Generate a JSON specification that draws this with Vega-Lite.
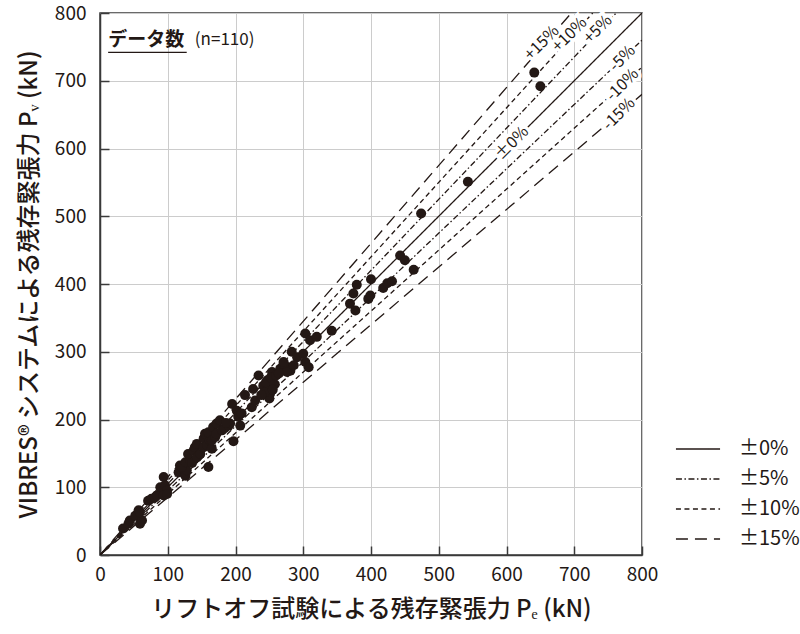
{
  "$schema": "https://vega.github.io/schema/vega-lite/v6.json",
  "width": 542,
  "height": 542,
  "autosize": {"type": "none"},
  "padding": {"left": 100, "top": 13, "right": 158, "bottom": 79},
  "background": "white",
  "datasets": {
    "points": [
      {"pe": 34, "pv": 39}, {"pe": 42, "pv": 46}, {"pe": 44, "pv": 51}, {"pe": 52, "pv": 58},
      {"pe": 57, "pv": 66}, {"pe": 59, "pv": 46}, {"pe": 62, "pv": 51}, {"pe": 59, "pv": 63},
      {"pe": 71, "pv": 80}, {"pe": 76, "pv": 83}, {"pe": 81, "pv": 85}, {"pe": 84, "pv": 88},
      {"pe": 89, "pv": 100}, {"pe": 94, "pv": 115}, {"pe": 96, "pv": 103}, {"pe": 99, "pv": 95},
      {"pe": 94, "pv": 88}, {"pe": 99, "pv": 90}, {"pe": 116, "pv": 122}, {"pe": 118, "pv": 132},
      {"pe": 123, "pv": 127}, {"pe": 126, "pv": 117}, {"pe": 128, "pv": 125}, {"pe": 121, "pv": 130},
      {"pe": 126, "pv": 137}, {"pe": 133, "pv": 140}, {"pe": 136, "pv": 136}, {"pe": 130, "pv": 149},
      {"pe": 138, "pv": 154}, {"pe": 143, "pv": 144}, {"pe": 140, "pv": 159}, {"pe": 143, "pv": 164},
      {"pe": 148, "pv": 149}, {"pe": 153, "pv": 159}, {"pe": 153, "pv": 172}, {"pe": 155, "pv": 179},
      {"pe": 158, "pv": 162}, {"pe": 160, "pv": 130}, {"pe": 162, "pv": 169}, {"pe": 165, "pv": 157},
      {"pe": 160, "pv": 181}, {"pe": 165, "pv": 169}, {"pe": 167, "pv": 189}, {"pe": 170, "pv": 174},
      {"pe": 172, "pv": 194}, {"pe": 177, "pv": 199}, {"pe": 172, "pv": 179}, {"pe": 180, "pv": 184},
      {"pe": 184, "pv": 187}, {"pe": 190, "pv": 191}, {"pe": 192, "pv": 194}, {"pe": 197, "pv": 168},
      {"pe": 195, "pv": 223}, {"pe": 202, "pv": 213}, {"pe": 204, "pv": 204}, {"pe": 209, "pv": 209},
      {"pe": 207, "pv": 191}, {"pe": 214, "pv": 236}, {"pe": 224, "pv": 218}, {"pe": 229, "pv": 228},
      {"pe": 226, "pv": 245}, {"pe": 234, "pv": 265}, {"pe": 241, "pv": 250}, {"pe": 247, "pv": 258},
      {"pe": 249, "pv": 248}, {"pe": 251, "pv": 238}, {"pe": 250, "pv": 231}, {"pe": 254, "pv": 270},
      {"pe": 266, "pv": 275}, {"pe": 243, "pv": 240}, {"pe": 245, "pv": 255}, {"pe": 252, "pv": 262},
      {"pe": 258, "pv": 252}, {"pe": 255, "pv": 244}, {"pe": 260, "pv": 265}, {"pe": 271, "pv": 282},
      {"pe": 278, "pv": 277}, {"pe": 281, "pv": 272}, {"pe": 276, "pv": 270}, {"pe": 271, "pv": 285},
      {"pe": 283, "pv": 300}, {"pe": 291, "pv": 292}, {"pe": 300, "pv": 297}, {"pe": 303, "pv": 285},
      {"pe": 308, "pv": 277}, {"pe": 303, "pv": 327}, {"pe": 310, "pv": 317}, {"pe": 320, "pv": 322},
      {"pe": 342, "pv": 331}, {"pe": 369, "pv": 371}, {"pe": 377, "pv": 361}, {"pe": 379, "pv": 399},
      {"pe": 374, "pv": 386}, {"pe": 400, "pv": 407}, {"pe": 396, "pv": 378}, {"pe": 399, "pv": 383},
      {"pe": 418, "pv": 394}, {"pe": 424, "pv": 401}, {"pe": 431, "pv": 404}, {"pe": 443, "pv": 442},
      {"pe": 450, "pv": 435}, {"pe": 463, "pv": 421}, {"pe": 474, "pv": 504}, {"pe": 543, "pv": 551},
      {"pe": 641, "pv": 712}, {"pe": 650, "pv": 692}, {"pe": 264, "pv": 268}, {"pe": 286, "pv": 280},
      {"pe": 238, "pv": 236}, {"pe": 186, "pv": 195}
    ],
    "lines": [
      {"line": "+15%", "style": "±15%", "pe": 0, "pv": 0}, {"line": "+15%", "style": "±15%", "pe": 695.7, "pv": 800},
      {"line": "+10%", "style": "±10%", "pe": 0, "pv": 0}, {"line": "+10%", "style": "±10%", "pe": 727.3, "pv": 800},
      {"line": "+5%", "style": "±5%", "pe": 0, "pv": 0}, {"line": "+5%", "style": "±5%", "pe": 761.9, "pv": 800},
      {"line": "±0%", "style": "±0%", "pe": 0, "pv": 0}, {"line": "±0%", "style": "±0%", "pe": 800, "pv": 800},
      {"line": "-5%", "style": "±5%", "pe": 0, "pv": 0}, {"line": "-5%", "style": "±5%", "pe": 800, "pv": 760},
      {"line": "-10%", "style": "±10%", "pe": 0, "pv": 0}, {"line": "-10%", "style": "±10%", "pe": 800, "pv": 720},
      {"line": "-15%", "style": "±15%", "pe": 0, "pv": 0}, {"line": "-15%", "style": "±15%", "pe": 800, "pv": 680}
    ],
    "labels": [
      {"label": "+15%", "pe": 652, "pv": 756},
      {"label": "+10%", "pe": 693, "pv": 768},
      {"label": "+5%", "pe": 735, "pv": 776},
      {"label": "±0%", "pe": 608, "pv": 608},
      {"label": "-5%", "pe": 771, "pv": 733},
      {"label": "-10%", "pe": 771, "pv": 694},
      {"label": "-15%", "pe": 766, "pv": 651}
    ],
    "note": [
      {"head": "データ数", "count": "(n=110)", "pe": 12, "pe2": 128, "pe3": 140, "pv": 760, "pvline": 742}
    ]
  },
  "encoding": {
    "x": {
      "field": "pe", "type": "quantitative",
      "scale": {"domain": [0, 800], "nice": false},
      "axis": {
        "title": "リフトオフ試験による残存緊張力  Pₑ (kN)",
        "values": [0, 100, 200, 300, 400, 500, 600, 700, 800],
        "labelPadding": 19,
        "titlePadding": 13
      }
    },
    "y": {
      "field": "pv", "type": "quantitative",
      "scale": {"domain": [0, 800], "nice": false},
      "axis": {
        "title": "VIBRES® システムによる残存緊張力  Pᵥ (kN)",
        "values": [0, 100, 200, 300, 400, 500, 600, 700, 800],
        "labelPadding": 23,
        "titlePadding": 13
      }
    }
  },
  "layer": [
    {
      "data": {"name": "lines"},
      "mark": {"type": "line", "strokeWidth": 1.3, "color": "#231815", "clip": true},
      "encoding": {
        "detail": {"field": "line"},
        "strokeDash": {
          "field": "style", "type": "nominal",
          "scale": {
            "domain": ["±0%", "±5%", "±10%", "±15%"],
            "range": [[1, 0], [6, 2.5, 1.5, 2.5], [5, 3.5], [12, 7]]
          },
          "legend": {
            "title": null,
            "orient": "none",
            "legendX": 582,
            "legendY": 420,
            "padding": 0,
            "symbolType": "M-1.47,0H1.47",
            "symbolSize": 900,
            "symbolStrokeWidth": 1.3,
            "symbolStrokeColor": "#231815",
            "symbolFillColor": "transparent",
            "rowPadding": 4,
            "labelOffset": 25,
            "labelFontSize": 20,
            "labelFont": "Noto Sans CJK JP",
            "labelColor": "#231815"
          }
        }
      }
    },
    {
      "data": {"name": "labels"},
      "mark": {"type": "text", "angle": -45, "fontSize": 16, "font": "Noto Sans CJK JP", "fill": "white", "stroke": "white", "strokeWidth": 7, "align": "center", "baseline": "middle"},
      "encoding": {"text": {"field": "label"}}
    },
    {
      "data": {"name": "labels"},
      "mark": {"type": "text", "angle": -45, "fontSize": 16, "font": "Noto Sans CJK JP", "color": "#231815", "align": "center", "baseline": "middle"},
      "encoding": {"text": {"field": "label"}}
    },
    {
      "data": {"name": "points"},
      "mark": {"type": "circle", "size": 100, "opacity": 1, "color": "#231815"}
    },
    {
      "data": {"name": "note"},
      "mark": {"type": "text", "fontSize": 19, "fontWeight": "bold", "font": "Noto Sans CJK JP", "color": "#231815", "align": "left", "baseline": "middle"},
      "encoding": {"text": {"field": "head"}}
    },
    {
      "data": {"name": "note"},
      "mark": {"type": "text", "fontSize": 17, "font": "Noto Sans CJK JP", "color": "#231815", "align": "left", "baseline": "middle"},
      "encoding": {"x": {"field": "pe3", "type": "quantitative"}, "text": {"field": "count"}}
    },
    {
      "data": {"name": "note"},
      "mark": {"type": "rule", "strokeWidth": 1.3, "color": "#231815"},
      "encoding": {
        "x2": {"field": "pe2"},
        "y": {"field": "pvline", "type": "quantitative"}
      }
    }
  ],
  "config": {
    "font": "Noto Sans CJK JP",
    "view": {"stroke": "#3a3a3a", "strokeWidth": 1.5},
    "axis": {
      "domainColor": "#3a3a3a",
      "domainWidth": 1.5,
      "tickColor": "#3a3a3a",
      "tickWidth": 1.5,
      "tickSize": -9,
      "gridColor": "#cccccc",
      "gridWidth": 1,
      "labelFlush": false,
      "labelFont": "Noto Sans CJK JP",
      "labelFontSize": 19,
      "labelColor": "#231815",
      "titleFont": "Noto Sans CJK JP",
      "titleFontSize": 24,
      "titleFontWeight": 500,
      "titleColor": "#231815"
    }
  }
}
